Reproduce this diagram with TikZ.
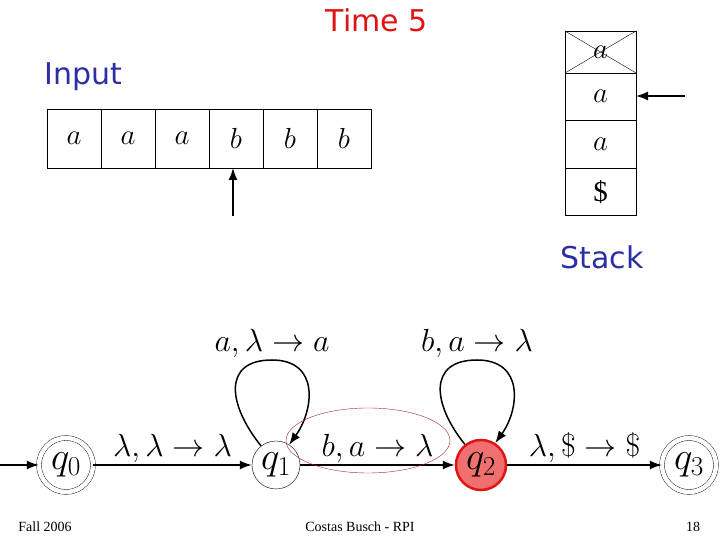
\RequirePackage{fix-cm}
\documentclass[tikz,border=0pt]{standalone}
\usepackage{fontspec}
\setmainfont{Liberation Serif}
\newfontfamily\slidefont{DejaVu Sans}
\usetikzlibrary{arrows.meta, positioning, calc}

\definecolor{titlered}{RGB}{220,20,20}
\definecolor{headblue}{RGB}{45,45,165}
\definecolor{statefill}{RGB}{240,112,112}
\definecolor{stateborder}{RGB}{225,20,20}
\definecolor{ringred}{RGB}{175,35,45}

\begin{document}
\begin{tikzpicture}[
  x=1pt, y=1pt,
  node distance=0pt,
  cell/.style={rectangle, draw, thin, outer sep=0pt, minimum width=54pt, minimum height=59pt, inner sep=0pt, font=\fontsize{29}{32}\selectfont},
  slot/.style={rectangle, draw, thin, outer sep=0pt, minimum width=71pt, minimum height=47.5pt, inner sep=0pt, font=\fontsize{29}{32}\selectfont},
  state/.style={circle, draw, thin, minimum size=48pt, inner sep=0pt, font=\fontsize{39}{42}\selectfont},
  accept/.style={state, double, double distance=4.5pt, minimum size=54pt},
  current/.style={state, line width=2.5pt, draw=stateborder, fill=statefill, minimum size=50pt},
  arrow/.style={-{Latex[length=12pt, width=9pt]}, line width=1.5pt},
  lbl/.style={font=\fontsize{32}{36}\selectfont, inner sep=2pt},
  heading/.style={font=\slidefont\fontsize{30}{34}\selectfont},
  foot/.style={font=\fontsize{14}{16}\selectfont}
]
\useasboundingbox (0,0) rectangle (720,540);

% headings
\node (time) [heading, text=titlered] at (377,520) {Time 5};
\node (input) [heading, text=headblue] at (83,463) {Input};
\node (stack) [heading, text=headblue] at (602,283) {Stack};

% input tape
\node (tape1) [cell] at (74,401.5) {$a$};
\node (tape2) [cell, right=of tape1] {$a$};
\node (tape3) [cell, right=of tape2] {$a$};
\node (tape4) [cell, right=of tape3] {$b$};
\node (tape5) [cell, right=of tape4] {$b$};
\node (tape6) [cell, right=of tape5] {$b$};
\coordinate (head) at (233,324);
\draw [arrow] (head) -- (head |- tape4.south);

% stack
\node (slot1) [slot, minimum height=42pt] at (600.5,488) {$a$};
\node (slot2) [slot, below=of slot1] {$a$};
\node (slot3) [slot, below=of slot2] {$a$};
\node (slot4) [slot, below=of slot3] {\$};
\draw (slot1.north west) -- (slot1.south east);
\draw (slot1.north east) -- (slot1.south west);
\coordinate (top) at (685,444);
\draw [arrow] (top) -- (top -| slot2.east);

% automaton
\node (q0) [accept] at (66,75) {$q_0$};
\node (q1) [state] at (276,75) {$q_1$};
\node (q2) [current] at (481,75) {$q_2$};
\node (q3) [accept] at (689,75) {$q_3$};
\coordinate (start) at (0,75);

\draw [arrow] (start) -- (q0);
\draw [arrow] (q0) -- node [lbl, above] {$\lambda, \lambda \to \lambda$} (q1);
\draw [arrow] (q1) -- node [lbl, above] {$b, a \to \lambda$} (q2);
\draw [arrow] (q2) -- node [lbl, above] {$\lambda, \$ \to \$$} (q3);

\foreach \s/\t in {q1/{a, \lambda \to a}, q2/{b, a \to \lambda}}
  \draw [arrow] (\s.128) .. controls ($(\s)+(-48,60)$) and ($(\s)+(-54,105)$) .. ($(\s)+(-4,105)$)
    node [lbl, above] {$\t$}
    .. controls ($(\s)+(44,105)$) and ($(\s)+(38,55)$) .. (\s.57);

\draw [ringred, thin] (368,99.5) ellipse [x radius=82, y radius=32.5];

% footer
\node (date) [foot] at (45,13) {Fall 2006};
\node (author) [foot] at (360,13) {Costas Busch - RPI};
\node (page) [foot] at (693,13) {18};

\end{tikzpicture}
\end{document}
